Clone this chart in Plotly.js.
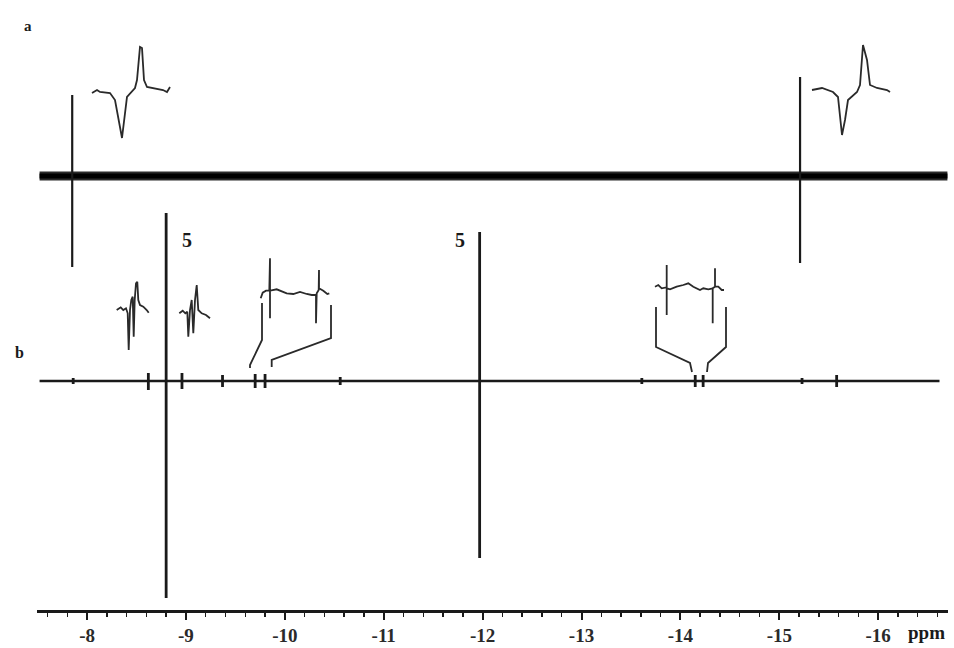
<!DOCTYPE html>
<html>
<head>
<meta charset="utf-8">
<script src="https://cdn.plot.ly/plotly-3.0.1.min.js"></script>
<style>html,body{margin:0;padding:0;background:#fff;}#chart{width:954px;height:648px;}</style>
</head>
<body>
<div id="chart"></div>
<script>
// ---- axis ticks ----
const ppmTicks = [-8, -9, -10, -11, -12, -13, -14, -15, -16];
const ppmLabels = ['-8', '-9', '-10', '-11', '-12', '-13', '-14', '-15', '-16'];

// ---- spectrum a ----
const specA_start = -7.52, specA_end = -16.70;
const peaksA_ppm = [-7.85, -15.21];
const peaksA_pos = [81, 99];
const peaksA_neg = [91, 87];

// ---- spectrum b ----
const specB_start = -7.52, specB_end = -16.62;
const peaksB_ppm = [-7.86, -8.62, -8.80, -8.96, -9.37, -9.70, -9.80, -10.56, -11.97, -13.61, -14.15, -14.23, -15.23, -15.58];
const peaksB_pos = [3, 8, 168, 8, 6, 7, 7, 4, 149, 3, 6, 6, 3, 6];
const peaksB_neg = [3, 9, 217, 8, 6, 7, 7, 4, 177, 3, 6, 6, 3, 6];

// ---- expanded insets (local units) ----
const insA1_x = [2, 7, 10, 20, 25, 32, 37, 42, 45, 47, 50, 52, 54, 57, 63, 73, 77, 80];
const insA1_y = [47, 50, 48, 47, 40, 2, 43, 48, 52, 60, 93, 92, 60, 53, 52, 50, 48, 53];
const insA2_x = [2, 12, 23, 28, 32, 35, 38, 47, 50, 53, 57, 60, 67, 77, 80];
const insA2_y = [47, 49, 45, 40, 2, 17, 37, 45, 52, 92, 77, 52, 49, 47, 45];
const insB1_x = [1.7, 5.7, 8.3, 11, 12.7, 13.7, 15, 16.3, 17.7, 18.7, 19.7, 21, 22.3, 23.3, 25, 28.3, 31.7, 33.7];
const insB1_y = [42, 44.7, 42, 43.7, 38.7, 2, 42, 52, 55.3, 15.3, 52, 68.7, 70.3, 52, 47, 45.3, 42, 39.3];
const insB2_x = [2.3, 5.7, 8.3, 10.3, 11.3, 13, 14.7, 16.3, 18, 19.7, 21.3, 24.7, 29, 33];
const insB2_y = [26.7, 29.3, 26.7, 28.3, 3.3, 30, 40, 6.7, 40, 55, 30, 26.7, 25, 21.7];
const insB3_x = [15.7, 17.7, 21, 24.3, 25, 25, 25, 31.7, 36.7, 41.7, 48.3, 55, 61.7, 66.7, 71, 71, 71.7, 73.7, 74, 74, 78.3, 82.3, 84.3];
const insB3_y = [73.7, 79.3, 81.3, 81.3, 113.7, 53.7, 81.3, 82.7, 80.3, 78.7, 78, 80, 78, 77, 77, 48.7, 78.7, 82, 102, 83.7, 81.3, 78, 78.7];
const brB3_left_x = [17, 17, 5, 5], brB3_left_y = [69, 32, 7, 4];
const brB3_right_x = [86, 86, 26.7, 26.7], brB3_right_y = [67, 34, 12, 5];
const insB4_x = [5, 8.3, 11.7, 15, 16.7, 16.7, 16.7, 16.7, 20, 26.7, 33.3, 38.3, 43.3, 50, 53.3, 58.3, 62.7, 62.7, 62.7, 65, 65, 65, 68.3, 71.7, 74];
const insB4_y = [88.3, 90, 86.7, 87.7, 87.7, 110, 60, 86.7, 85.7, 88.3, 90, 91.7, 88.3, 85, 86.7, 85.7, 86.7, 51.7, 86.7, 88.3, 106.7, 88.3, 88.3, 85, 85];
const brB4_left_x = [6, 6, 40, 42], brB4_left_y = [68, 28, 12, 3];
const brB4_right_x = [76, 76, 58, 57], brB4_right_y = [68, 28, 12, 3];

// ---- layout constants ----
const W = 954, H = 648;
const OFFSET_A = 434, OFFSET_B = 229;
const INK = '#1a1a1a';
const SERIF = 'Liberation Serif, DejaVu Serif, serif';

function sticks(ppm, pos, neg, off) {
  const x = [], y = [];
  ppm.forEach((p, i) => { x.push(p, p, null); y.push(off + pos[i], off - neg[i], null); });
  return {x, y};
}

const traces = [];
// spectrum a baseline (noise band)
traces.push({x: [specA_start, specA_end], y: [OFFSET_A, OFFSET_A], mode: 'lines', line: {color: '#2b2b2b', width: 9}, xaxis: 'x', yaxis: 'y', hoverinfo: 'skip'});
traces.push({x: [specA_start, specA_end], y: [OFFSET_A, OFFSET_A], mode: 'lines', line: {color: '#000', width: 5}, xaxis: 'x', yaxis: 'y', hoverinfo: 'skip'});
const sa = sticks(peaksA_ppm, peaksA_pos, peaksA_neg, OFFSET_A);
traces.push({x: sa.x, y: sa.y, mode: 'lines', line: {color: INK, width: 2.2}, xaxis: 'x', yaxis: 'y', hoverinfo: 'skip'});
// spectrum b
traces.push({x: [specB_start, specB_end], y: [OFFSET_B, OFFSET_B], mode: 'lines', line: {color: INK, width: 2.6}, xaxis: 'x', yaxis: 'y', hoverinfo: 'skip'});
const sb = sticks(peaksB_ppm, peaksB_pos, peaksB_neg, OFFSET_B);
traces.push({x: sb.x, y: sb.y, mode: 'lines', line: {color: INK, width: 2.8}, xaxis: 'x', yaxis: 'y', hoverinfo: 'skip'});

const insetBoxes = [
  {xs: [insA1_x], ys: [insA1_y], box: [90, 172, 43, 140]},
  {xs: [insA2_x], ys: [insA2_y], box: [810, 892, 43, 137]},
  {xs: [insB1_x], ys: [insB1_y], box: [115, 150, 278, 352]},
  {xs: [insB2_x], ys: [insB2_y], box: [177, 212, 280, 340]},
  {xs: [insB3_x, brB3_left_x, brB3_right_x], ys: [insB3_y, brB3_left_y, brB3_right_y], box: [245, 335, 255, 372]},
  {xs: [insB4_x, brB4_left_x, brB4_right_x], ys: [insB4_y, brB4_left_y, brB4_right_y], box: [650, 730, 260, 375]}
];

function label(text, px, py, size) {
  return {text: text, x: px / W, y: 1 - py / H, xref: 'paper', yref: 'paper', xanchor: 'center', yanchor: 'middle', showarrow: false,
          font: {family: SERIF, size: size, color: INK, weight: 'bold'}};
}

const layout = {
  width: W, height: H,
  margin: {l: 0, r: 0, t: 0, b: 0},
  paper_bgcolor: '#fff', plot_bgcolor: 'rgba(0,0,0,0)',
  showlegend: false,
  xaxis: {
    domain: [37 / W, 948 / W],
    range: [-7.494, -16.706],
    tickmode: 'array', tickvals: ppmTicks, ticktext: ppmLabels,
    ticks: 'outside', ticklen: 7, tickwidth: 2, tickcolor: INK,
    showline: true, linecolor: INK, linewidth: 2.5,
    showgrid: false, zeroline: false,
    minor: {tickmode: 'linear', tick0: 0, dtick: 0.2, ticks: 'outside', ticklen: 4, tickwidth: 1.5, tickcolor: INK, showgrid: false},
    tickfont: {family: SERIF, size: 19, color: '#2a2a2a', weight: 'bold'},
    anchor: 'y', fixedrange: true
  },
  yaxis: {
    domain: [38 / H, 1], range: [0, 610],
    visible: false, fixedrange: true, anchor: 'x'
  },
  annotations: [
    label('a', 28, 26, 15),
    label('b', 19, 352, 16),
    label('5', 187, 240, 20),
    label('5', 460, 240, 20),
    label('ppm', 926, 632, 19)
  ]
};

insetBoxes.forEach((ins, k) => {
  const n = k + 2;
  const [x0, x1, y0, y1] = ins.box;
  layout['xaxis' + n] = {domain: [x0 / W, x1 / W], range: [0, x1 - x0], visible: false, anchor: 'y' + n, fixedrange: true};
  layout['yaxis' + n] = {domain: [1 - y1 / H, 1 - y0 / H], range: [0, y1 - y0], visible: false, anchor: 'x' + n, fixedrange: true};
  ins.xs.forEach((xx, j) => {
    traces.push({x: xx, y: ins.ys[j], mode: 'lines', line: {color: '#2a2a2a', width: 1.8}, xaxis: 'x' + n, yaxis: 'y' + n, hoverinfo: 'skip'});
  });
});

Plotly.newPlot('chart', traces, layout, {staticPlot: true, displayModeBar: false});
</script>
</body>
</html>
